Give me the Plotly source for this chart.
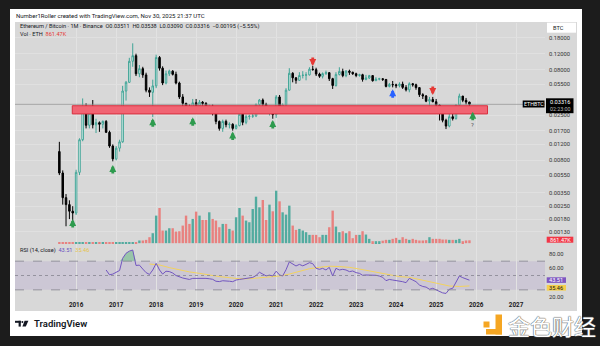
import numpy as np
import pandas as pd
import plotly.graph_objects as go

# ---------------- data ----------------
months = pd.date_range("2015-08-01", periods=124, freq="MS")

open_ = [
    0.0100, 0.0058, 0.0031, 0.0026, 0.0022,
    0.0021, 0.0059, 0.0135, 0.0276, 0.0195, 0.0265, 0.0197, 0.0208, 0.0200, 0.0215, 0.0163, 0.0115,
    0.0083, 0.0109, 0.0128, 0.0465, 0.0580, 0.0990, 0.1140, 0.0720, 0.0820, 0.0700, 0.0475, 0.0450,
    0.0530, 0.1090, 0.0830, 0.0570, 0.0720, 0.0770, 0.0710, 0.0570, 0.0400, 0.0340, 0.0315, 0.0290,
    0.0345, 0.0320, 0.0350, 0.0340, 0.0300, 0.0315, 0.0275, 0.0215, 0.0180, 0.0215, 0.0198, 0.0200,
    0.0180, 0.0193, 0.0258, 0.0210, 0.0243, 0.0245, 0.0247, 0.0330, 0.0370, 0.0330, 0.0280, 0.0310,
    0.0255, 0.0400, 0.0315, 0.0325, 0.0475, 0.0730, 0.0650, 0.0610, 0.0690, 0.0695, 0.0700, 0.0810,
    0.0800, 0.0715, 0.0676, 0.0723, 0.0741, 0.0636, 0.0535, 0.0708, 0.0765, 0.0688, 0.0770, 0.0748,
    0.0721, 0.0689, 0.0703, 0.0624, 0.0648, 0.0688, 0.0604, 0.0628, 0.0635, 0.0624, 0.0523, 0.0549,
    0.0545, 0.0532, 0.0554, 0.0510, 0.0479, 0.0559, 0.0545, 0.0507, 0.0424, 0.0410, 0.0359, 0.0375,
    0.0354, 0.0325, 0.0264, 0.0221, 0.0191, 0.0242, 0.0231, 0.0326, 0.0409, 0.0367, 0.03511,
]
high_ = [
    0.0128, 0.0062, 0.0034, 0.0029, 0.0025,
    0.0063, 0.0140, 0.0385, 0.0340, 0.0300, 0.0370, 0.0230, 0.0215, 0.0220, 0.0222, 0.0170, 0.0120,
    0.0115, 0.0135, 0.0530, 0.0600, 0.1080, 0.1560, 0.1200, 0.0900, 0.0860, 0.0740, 0.0510, 0.0620,
    0.1170, 0.1130, 0.0870, 0.0780, 0.0800, 0.0790, 0.0760, 0.0590, 0.0430, 0.0345, 0.0330, 0.0380,
    0.0380, 0.0370, 0.0360, 0.0350, 0.0330, 0.0330, 0.0285, 0.0220, 0.0225, 0.0225, 0.0210, 0.0205,
    0.0200, 0.0290, 0.0270, 0.0255, 0.0255, 0.0260, 0.0340, 0.0380, 0.0385, 0.0345, 0.0320, 0.0315,
    0.0420, 0.0420, 0.0340, 0.0500, 0.0830, 0.0750, 0.0660, 0.0750, 0.0770, 0.0750, 0.0850, 0.0880,
    0.0840, 0.0740, 0.0745, 0.0780, 0.0750, 0.0650, 0.0750, 0.0850, 0.0820, 0.0790, 0.0800, 0.0760,
    0.0740, 0.0720, 0.0720, 0.0700, 0.0700, 0.0690, 0.0660, 0.0650, 0.0640, 0.0630, 0.0570, 0.0600,
    0.0560, 0.0580, 0.0590, 0.0540, 0.0580, 0.0570, 0.0560, 0.0510, 0.0440, 0.0420, 0.0400, 0.0400,
    0.0380, 0.0330, 0.0270, 0.0230, 0.0260, 0.0265, 0.0330, 0.0435, 0.0410, 0.0390, 0.03538,
]
low_ = [
    0.0055, 0.0026, 0.0015, 0.0018, 0.0017,
    0.0020, 0.0055, 0.0130, 0.0180, 0.0180, 0.0180, 0.0160, 0.0165, 0.0180, 0.0160, 0.0110, 0.0078,
    0.0080, 0.0100, 0.0125, 0.0365, 0.0570, 0.0860, 0.0680, 0.0660, 0.0650, 0.0450, 0.0400, 0.0240,
    0.0500, 0.0780, 0.0540, 0.0550, 0.0680, 0.0690, 0.0550, 0.0380, 0.0300, 0.0300, 0.0265, 0.0265,
    0.0310, 0.0310, 0.0320, 0.0290, 0.0270, 0.0250, 0.0200, 0.0170, 0.0165, 0.0185, 0.0180, 0.0170,
    0.0175, 0.0190, 0.0195, 0.0200, 0.0225, 0.0235, 0.0240, 0.0315, 0.0315, 0.0270, 0.0250, 0.0230,
    0.0235, 0.0300, 0.0290, 0.0320, 0.0470, 0.0580, 0.0560, 0.0600, 0.0640, 0.0610, 0.0690, 0.0780,
    0.0680, 0.0650, 0.0640, 0.0700, 0.0600, 0.0490, 0.0520, 0.0690, 0.0660, 0.0660, 0.0700, 0.0700,
    0.0660, 0.0670, 0.0590, 0.0610, 0.0630, 0.0590, 0.0600, 0.0610, 0.0600, 0.0510, 0.0510, 0.0510,
    0.0500, 0.0510, 0.0490, 0.0460, 0.0450, 0.0520, 0.0480, 0.0400, 0.0380, 0.0350, 0.0320, 0.0350,
    0.0310, 0.0220, 0.0210, 0.0177, 0.0185, 0.0220, 0.0225, 0.0320, 0.0350, 0.0330, 0.03090,
]
close_ = [
    0.0058, 0.0031, 0.0026, 0.0022, 0.0021,
    0.0059, 0.0135, 0.0276, 0.0195, 0.0265, 0.0197, 0.0208, 0.0200, 0.0215, 0.0163, 0.0115, 0.0083,
    0.0109, 0.0128, 0.0465, 0.0580, 0.0990, 0.1140, 0.0720, 0.0820, 0.0700, 0.0475, 0.0450, 0.0530,
    0.1090, 0.0830, 0.0570, 0.0720, 0.0770, 0.0710, 0.0570, 0.0400, 0.0340, 0.0315, 0.0290, 0.0345,
    0.0320, 0.0350, 0.0340, 0.0300, 0.0315, 0.0275, 0.0215, 0.0180, 0.0215, 0.0198, 0.0200, 0.0180,
    0.0193, 0.0258, 0.0210, 0.0243, 0.0245, 0.0247, 0.0330, 0.0370, 0.0330, 0.0280, 0.0310, 0.0255,
    0.0400, 0.0315, 0.0325, 0.0475, 0.0730, 0.0650, 0.0610, 0.0690, 0.0695, 0.0700, 0.0810, 0.0800,
    0.0715, 0.0676, 0.0723, 0.0741, 0.0636, 0.0535, 0.0708, 0.0765, 0.0688, 0.0770, 0.0748, 0.0721,
    0.0689, 0.0703, 0.0624, 0.0648, 0.0688, 0.0604, 0.0628, 0.0635, 0.0624, 0.0523, 0.0549, 0.0545,
    0.0532, 0.0554, 0.0510, 0.0479, 0.0559, 0.0545, 0.0507, 0.0424, 0.0410, 0.0359, 0.0375, 0.0354,
    0.0325, 0.0264, 0.0221, 0.0191, 0.0242, 0.0231, 0.0326, 0.0409, 0.0367, 0.0351, 0.03316,
]
# monthly volume (millions ETH)
volume = [0.06] * 23 + [0.3] + [
    0.81, 0.81, 0.99, 1.8, 3.0, 8.3, 10.6, 3.8, 3.8, 4.5, 4.5, 3.5, 3.6, 5.3, 8.3, 5.8, 7.3,
    9.5, 8.3, 7.0, 7.0, 9.3, 7.3, 6.8, 4.8, 5.8, 5.8, 4.3, 3.8, 7.8, 10.6, 8.3, 6.8, 6.3, 10.3,
    14.0, 10.8, 13.0, 7.0, 11.6, 9.6, 15.8, 12.6, 9.3, 8.6, 11.3, 5.3, 4.0, 4.3, 3.8, 3.3, 2.5,
    2.5, 2.5, 1.8, 2.5, 2.5, 4.8, 9.8, 5.0, 3.3, 3.6, 3.0, 3.6, 1.5, 2.5, 2.5, 3.6, 2.6, 1.3,
    0.6, 0.6, 0.6, 0.75, 1.0, 1.0, 1.3, 1.6, 1.0, 1.8, 1.3, 1.0, 1.3, 1.0, 0.81, 0.81, 0.9,
    1.8, 1.3, 1.3, 1.3, 1.1, 1.1, 1.0, 1.0, 1.0, 1.3, 0.6, 0.81, 0.86147,
]
# RSI(14) from Oct 2016
rsi = [
    57.7, 51, 52, 54.5, 57, 74, 81, 84, 85.6, 64,
    64.5, 59, 54, 51.5, 57.7, 67, 57.7, 52, 56, 55.5,
    53.5, 50, 48, 46.5, 45.5, 44.5, 46, 46, 46.8, 46.8,
    46, 45.5, 44.7, 42, 41.5, 42.7, 42.7, 42, 41.4, 43.7,
    44.5, 45.4, 45.8, 46.2, 47.3, 50, 54.5, 52, 49.5, 50.5,
    49.3, 56, 50.8, 49.3, 58, 69, 66.5, 63.3, 65.5, 63.5,
    65.5, 67.9, 66.5, 60, 58.6, 60, 57.7, 61.4, 49.3, 60,
    57.7, 58.6, 57.7, 55.4, 56.3, 54, 53, 50.3, 50.7, 50.7,
    50.3, 50.3, 49.3, 47.5, 42.8, 44.5, 43.7, 42.8, 42.8, 41.4,
    40, 46, 43.7, 41.4, 36.8, 34.7, 33.8, 30.8, 32.2, 30,
    27.5, 25.8, 25, 30.8, 32.2, 41.4, 49.3, 47, 45.6, 43.51,
]
rsi_dates = months[14:]
rsi_ma_dates = ["2017-11-01", "2018-02-01", "2018-05-01", "2018-08-01", "2018-11-01", "2019-02-01",
                "2019-05-01", "2019-08-01", "2019-11-01", "2020-02-01", "2020-05-01", "2020-08-01",
                "2020-11-01", "2021-02-01", "2021-05-01", "2021-08-01", "2021-11-01", "2022-02-01",
                "2022-05-01", "2022-08-01", "2022-11-01", "2023-02-01", "2023-05-01", "2023-08-01",
                "2023-11-01", "2024-02-01", "2024-05-01", "2024-08-01", "2024-11-01", "2025-02-01",
                "2025-05-01", "2025-08-01", "2025-11-01"]
rsi_ma = [66, 64.7, 61, 57.7, 55, 53, 50.5, 48.5, 47, 45.5, 45.5, 46.5, 47.5, 49.3, 52, 55.4,
          59.5, 61.4, 63, 62.5, 61.4, 59, 56.3, 53.5, 50.8, 48.5, 47.5, 44.5, 41, 37.5, 35.4,
          34.7, 35.46]

zone_low, zone_high = 0.0260, 0.0320
zone_start, zone_end = "2015-11-27", "2026-04-15"
last_price = 0.03316

arrow_dates = ["2015-12-01", "2016-12-01", "2017-12-01", "2018-12-01", "2019-12-01",
               "2020-12-01", "2025-12-01", "2023-12-01", "2021-12-01", "2024-12-01"]
arrow_prices = [0.0018, 0.0071, 0.0233, 0.0239, 0.0166, 0.0223, 0.0274, 0.0486, 0.0878, 0.0420]
arrow_dirs = ["up", "up", "up", "up", "up", "up", "up", "up", "down", "down"]
arrow_colors = ["#2e9b4e"] * 7 + ["#2962ff", "#e53935", "#e53935"]

price_ticks = [0.18, 0.12, 0.08, 0.055, 0.025, 0.017, 0.012, 0.008, 0.0055, 0.0035, 0.0025, 0.0018, 0.0013]
rsi_ticks = [20, 60, 80]
years = list(range(2016, 2028))

# ---------------- helpers ----------------
W, H = 600, 346
def fx(px):
    return px / W
def fy(py):
    return 1 - py / H

FONT = "Roboto"
DARK = "#131722"
x_range = ["2014-06-22", "2027-09-22"]

fig = go.Figure()

# support / resistance zone
fig.add_trace(go.Scatter(
    x=[zone_start, zone_end, zone_end, zone_start, zone_start],
    y=[zone_low, zone_low, zone_high, zone_high, zone_low],
    fill="toself", fillcolor="#f16473", line=dict(color="#d9303f", width=1),
    mode="lines", hoverinfo="skip", showlegend=False))

# last price line
fig.add_trace(go.Scatter(x=x_range, y=[last_price, last_price], mode="lines",
                         line=dict(color="#8f8f8f", width=0.7), hoverinfo="skip", showlegend=False))

fig.add_trace(go.Candlestick(
    x=months, open=open_, high=high_, low=low_, close=close_,
    increasing=dict(line=dict(color="#3fa496", width=1), fillcolor="#ffffff"),
    decreasing=dict(line=dict(color="#000000", width=1), fillcolor="#000000"),
    whiskerwidth=0, hoverinfo="skip", showlegend=False))

vol_colors = ["#52ab9f" if c >= o else "#e8817f" for o, c in zip(open_, close_)]
fig.add_trace(go.Bar(x=months, y=volume, yaxis="y2", marker=dict(color=vol_colors, line=dict(width=0)),
                     hoverinfo="skip", showlegend=False))

# RSI overbought fill
rsi_arr = np.array(rsi, dtype=float)
ob_mask = np.zeros(len(rsi_arr), dtype=bool)
for i in range(len(rsi_arr)):
    if rsi_arr[i] > 70 or (i + 1 < len(rsi_arr) and rsi_arr[i + 1] > 70) or (i > 0 and rsi_arr[i - 1] > 70):
        ob_mask[i] = True
ob_x = rsi_dates[ob_mask]
fig.add_trace(go.Scatter(x=ob_x, y=[70] * len(ob_x), yaxis="y3", mode="lines",
                         line=dict(width=0), hoverinfo="skip", showlegend=False))
fig.add_trace(go.Scatter(x=ob_x, y=np.maximum(rsi_arr[ob_mask], 70), yaxis="y3", mode="lines",
                         line=dict(width=0), fill="tonexty", fillcolor="rgba(60,170,100,0.40)",
                         hoverinfo="skip", showlegend=False))

fig.add_trace(go.Scatter(x=rsi_ma_dates, y=rsi_ma, yaxis="y3", mode="lines",
                         line=dict(color="#f3d35e", width=1), hoverinfo="skip", showlegend=False))
fig.add_trace(go.Scatter(x=rsi_dates, y=rsi, yaxis="y3", mode="lines",
                         line=dict(color="#7256c0", width=1), hoverinfo="skip", showlegend=False))

shapes = [
    # white card
    dict(type="rect", xref="paper", yref="paper", x0=fx(10), x1=fx(582), y0=fy(336), y1=fy(9),
         fillcolor="#ffffff", line=dict(width=0), layer="below"),
    # chart gray panel
    dict(type="rect", xref="paper", yref="paper", x0=fx(15), x1=fx(577), y0=fy(311), y1=fy(22),
         fillcolor="#d8d8d8", line=dict(width=0), layer="below"),
    # RSI band
    dict(type="rect", xref="x domain", yref="y3", x0=0, x1=1, y0=30, y1=70,
         fillcolor="rgba(126,87,194,0.13)", line=dict(width=0), layer="below"),
]
for lvl in (70, 50, 30):
    shapes.append(dict(type="line", xref="x domain", yref="y3", x0=0, x1=1, y0=lvl, y1=lvl,
                       line=dict(color="#85848f", width=0.8, dash="dash" if lvl != 50 else "dot")))

# label boxes
def box(x0, x1, y0, y1, color):
    return dict(type="rect", xref="paper", yref="paper", x0=fx(x0), x1=fx(x1), y0=fy(y1), y1=fy(y0),
                fillcolor=color, line=dict(width=0))
shapes += [
    box(547, 576, 22.7, 32.7, "#ffffff"),
    box(522.7, 544.5, 100.5, 107.5, "#000000"),
    box(546, 573.5, 98.3, 113.2, "#000000"),
    box(546.7, 573.3, 236.7, 242.7, "#f23645"),
    box(546.7, 566, 277.3, 282.9, "#7e57c2"),
    box(546.7, 566, 285, 290.6, "#f5cf4a"),
]
# TradingView logo
shapes += [
    box(15, 20.8, 320.8, 322.8, DARK),
    box(18.6, 20.8, 320.8, 326.6, DARK),
    dict(type="circle", xref="paper", yref="paper", x0=fx(21.4), x1=fx(23.4), y0=fy(323), y1=fy(321),
         fillcolor=DARK, line=dict(width=0)),
    dict(type="path", xref="paper", yref="paper",
         path=f"M {fx(24.6)},{fy(320.8)} L {fx(28.4)},{fy(320.8)} L {fx(25.8)},{fy(326.6)} L {fx(22.4)},{fy(326.6)} Z",
         fillcolor=DARK, line=dict(width=0)),
]
# 金色财经 logo (yellow)
shapes += [
    box(483.5, 489.5, 321.5, 327.5, "#f5a623"),
    box(495.5, 502, 314.5, 334.5, "#f5a623"),
    box(486, 502, 329, 334.5, "#f5a623"),
]

def txt(x, y, s, size=6, color=DARK, anchor="left", weight="normal", family=FONT, **kw):
    return dict(x=fx(x), y=fy(y), xref="paper", yref="paper", text=s, showarrow=False,
                xanchor=anchor, yanchor="middle", font=dict(size=size, color=color, family=family, weight=weight), **kw)

annotations = [
    txt(14, 15.8, "Number1Roller created with TradingView.com, Nov 30, 2025 21:37 UTC", size=6),
    txt(17.5, 26.7, "Ethereum / Bitcoin · 1M · Binance  O0.03511  H0.03538  L0.03090  C0.03316  −0.00195 (−5.55%)", size=5.6),
    txt(17.5, 33.6, "Vol · ETH  <span style='color:#e53935'>861.47K</span>", size=5.6),
    txt(17.5, 250.3, "RSI (14, close)  <span style='color:#6a4fc0'>43.51</span>  <span style='color:#e6c44a'>35.46</span>", size=5.6),
    txt(550.5, 27.7, "BTC", size=5.6),
    txt(533.6, 104, "ETHBTC", size=5.3, color="#ffffff", anchor="center"),
    txt(559.7, 102.2, "0.03316", size=5.6, color="#ffffff", anchor="center"),
    txt(559.7, 109.3, "02:23:00", size=5.3, color="#bbbbbb", anchor="center"),
    txt(560, 239.8, "861.47K", size=5.6, color="#ffffff", anchor="center"),
    txt(556.3, 280.1, "43.51", size=5.6, color="#ffffff", anchor="center"),
    txt(556.3, 287.8, "35.46", size=5.6, color=DARK, anchor="center"),
    txt(31.5, 323.8, "TradingView", size=9.5, weight=600),
    txt(552, 325, "金色财经", size=22, color="#ffffff", anchor="center", family="Noto Sans CJK SC"),
]
annotations[-1]["font"]["shadow"] = "0 0 1px #666, 0 0 1px #666, 0 0 1px #888"

for d, p, dr, c in zip(arrow_dates, arrow_prices, arrow_dirs, arrow_colors):
    annotations.append(dict(x=d, y=np.log10(p), xref="x", yref="y", text="", showarrow=True,
                            ax=0, ay=10 if dr == "up" else -10, arrowhead=2, arrowsize=0.5,
                            arrowwidth=2.8, arrowcolor=c))
annotations.append(dict(x="2025-12-01", y=np.log10(0.0200), xref="x", yref="y", text="?",
                        showarrow=False, font=dict(size=6, color="#555555", family=FONT)))

axis_font = dict(size=5.8, color="#333333", family=FONT)
fig.update_layout(
    width=W, height=H, autosize=False,
    margin=dict(l=0, r=0, t=0, b=0),
    paper_bgcolor="#1c1c1c", plot_bgcolor="rgba(0,0,0,0)",
    showlegend=False, bargap=0.22,
    shapes=shapes, annotations=annotations,
    xaxis=dict(type="date", domain=[fx(15), fx(545)], range=x_range,
               tickvals=[f"{y}-01-01" for y in years], ticktext=[str(y) for y in years],
               tickfont=dict(size=6.3, color="#1a1a1a", family=FONT, weight="bold"),
               showgrid=True, gridcolor="#e2e2e2", gridwidth=1, zeroline=False, showline=False,
               ticks="", anchor="free", position=fy(300), rangeslider=dict(visible=False),
               fixedrange=True),
    yaxis=dict(type="log", domain=[fy(244), fy(23)], range=[-3.0193, -0.58266], side="right",
               anchor="x", tickvals=price_ticks, ticktext=[f"{v:.5f}" for v in price_ticks],
               tickfont=axis_font, showgrid=True, gridcolor="#e0e0e0", gridwidth=1,
               zeroline=False, showline=False, ticks="", ticklabelstandoff=3),
    yaxis2=dict(overlaying="y", range=[-0.25, 66.3], visible=False, showgrid=False),
    yaxis3=dict(domain=[fy(300), fy(244)], range=[15.84, 93.95], side="right", anchor="x",
                tickvals=rsi_ticks, ticktext=[f"{v:.2f}" for v in rsi_ticks], tickfont=axis_font,
                showgrid=False, zeroline=False, showline=False, ticks="", ticklabelstandoff=3),
)

fig.write_html("out.html")
